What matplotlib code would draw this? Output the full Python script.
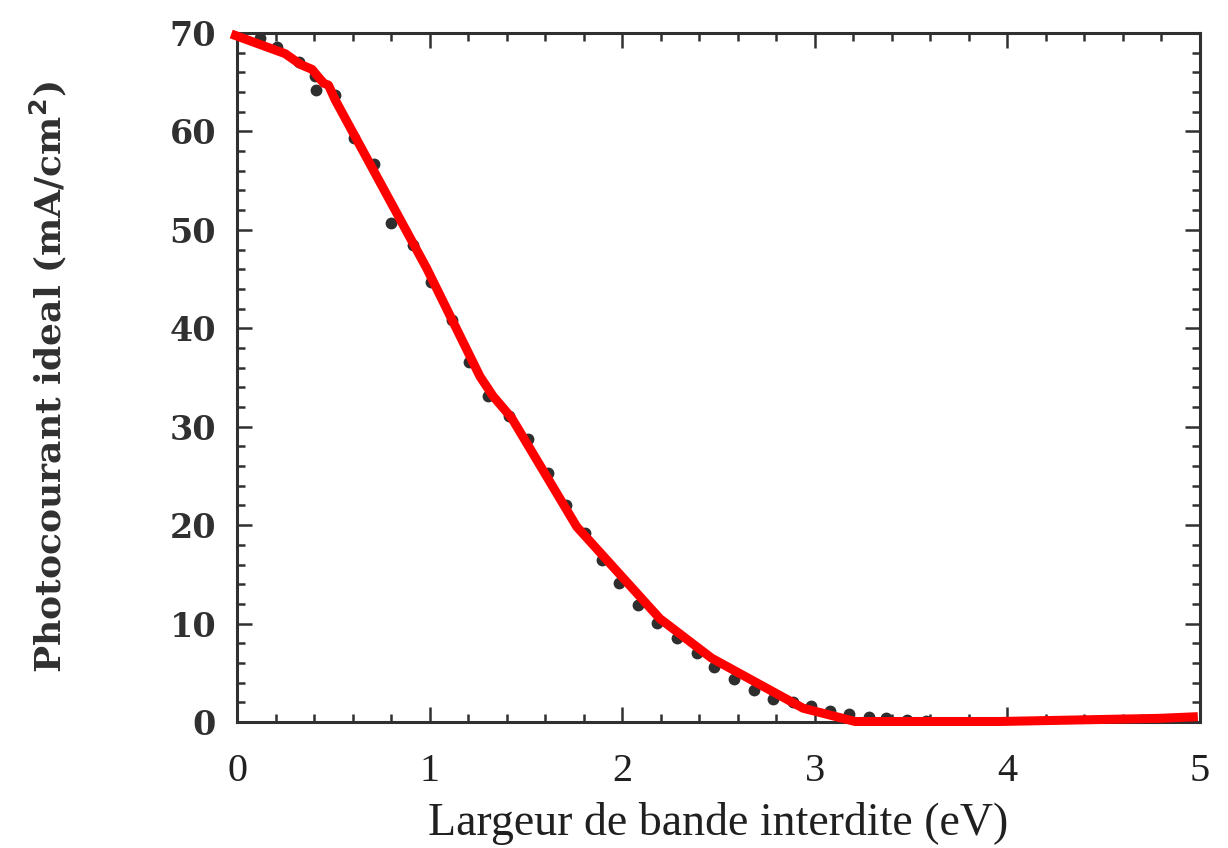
import matplotlib
matplotlib.use("Agg")
import matplotlib.pyplot as plt
from matplotlib.ticker import MultipleLocator

# Ideal photocurrent versus band gap (computed points)
gap_ev = [0.12, 0.21, 0.32, 0.405, 0.41, 0.51, 0.61, 0.71, 0.80, 0.915,
          1.01, 1.115, 1.206, 1.305, 1.41, 1.512, 1.616, 1.71, 1.807, 1.893,
          1.985, 2.08, 2.18, 2.283, 2.387, 2.478, 2.58, 2.684, 2.785, 2.885,
          2.98, 3.08, 3.18, 3.28, 3.37, 3.48, 3.58, 3.68, 3.77, 3.88, 3.98,
          4.1, 4.2, 4.3, 4.4, 4.5, 4.6, 4.7, 4.8, 4.9]
photocurrent = [69.5, 68.6, 67.1, 65.6, 64.2, 63.7, 59.3, 56.7, 50.7, 48.5,
                44.7, 40.85, 36.6, 33.1, 31.1, 28.7, 25.3, 22.05, 19.2, 16.5,
                14.1, 11.9, 10.1, 8.5, 7.0, 5.6, 4.4, 3.3, 2.3, 2.0,
                1.6, 1.15, 0.8, 0.55, 0.4, 0.2, 0.13, -0.07, -0.3, -0.5, -0.48,
                -0.2, -0.1, 0.0, 0.05, 0.1, 0.15, 0.2, 0.25, 0.3]

# Hand-traced fit drawn over the points
fit_x = [-0.03, 0.25, 0.33, 0.39, 0.415, 0.45, 0.475, 0.51, 0.985, 1.262,
         1.33, 1.426, 1.677, 1.764, 2.196, 2.464, 2.94, 3.21, 3.96, 4.79, 4.99]
fit_y = [69.9, 67.9, 66.8, 66.3, 65.7, 64.9, 64.7, 63.2, 46.1, 35.1,
         33.1, 30.9, 22.7, 19.85, 10.5, 6.5, 1.4, 0.05, 0.05, 0.37, 0.54]

x_ticks = [0, 1, 2, 3, 4, 5]
y_ticks = [0, 10, 20, 30, 40, 50, 60, 70]

fig = plt.figure(figsize=(12.28, 8.48), dpi=100)
ax = fig.add_axes([0.193, 0.1486, 0.784, 0.8125])

ax.plot(gap_ev, photocurrent, linestyle="none", marker="o", markersize=7.5,
        color="#2e2e2e", zorder=2)
ax.plot(fit_x, fit_y, color="#ff0000", linewidth=6.5, solid_capstyle="butt",
        solid_joinstyle="round", clip_on=False, zorder=3)

ax.set_xlim(0, 5)
ax.set_ylim(0, 70)
ax.set_xticks(x_ticks)
ax.set_yticks(y_ticks)
ax.xaxis.set_minor_locator(MultipleLocator(0.2))
ax.yaxis.set_minor_locator(MultipleLocator(2))
ax.tick_params(which="both", direction="in", top=True, right=True,
               color="#303030", width=1.8)
ax.tick_params(which="major", length=11)
ax.tick_params(which="minor", length=6)
ax.tick_params(axis="x", pad=22)
ax.tick_params(axis="y", pad=15)
for s in ax.spines.values():
    s.set_linewidth(2.2)
    s.set_color("#303030")

ax.set_xticklabels([str(v) for v in x_ticks], family="Liberation Serif",
                   fontsize=29, color="#202020")
ax.set_yticklabels([str(v) for v in y_ticks], family="DejaVu Serif",
                   fontweight="bold", fontsize=24, color="#303030")

ax.set_xlabel("Largeur de bande interdite (eV)", family="Liberation Serif",
              fontsize=33, color="#202020", labelpad=9)
ax.set_ylabel("Photocourant ideal (mA/cm$^\\mathbf{2}$)", family="DejaVu Serif",
              fontweight="bold", fontsize=26, color="#303030", labelpad=72)

fig.savefig("out.png", dpi=100, facecolor="white")
